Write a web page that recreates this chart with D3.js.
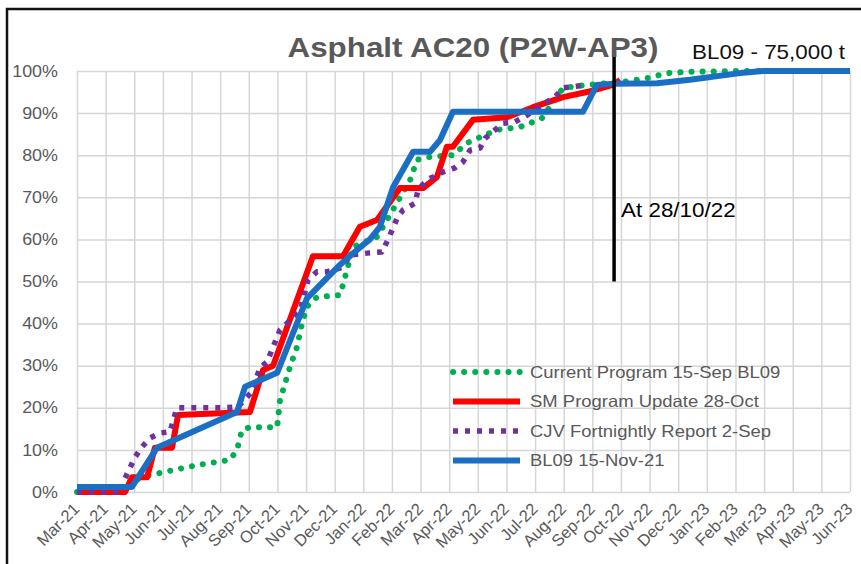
<!DOCTYPE html>
<meta charset="utf-8">
<title>Asphalt AC20 (P2W-AP3)</title>
<style>
  body { margin: 0; background: #fff; }
  svg text { font-family: "Liberation Sans", Arial, sans-serif; }
</style>
<svg id="chart"></svg>
<script src="https://cdn.jsdelivr.net/npm/d3@7"></script>
<script>
  // month labels on the category axis
  var months = ["Mar-21","Apr-21","May-21","Jun-21","Jul-21","Aug-21","Sep-21","Oct-21","Nov-21","Dec-21",
    "Jan-22","Feb-22","Mar-22","Apr-22","May-22","Jun-22","Jul-22","Aug-22","Sep-22","Oct-22","Nov-22","Dec-22",
    "Jan-23","Feb-23","Mar-23","Apr-23","May-23","Jun-23"];
  var yTicks = [0, 10, 20, 30, 40, 50, 60, 70, 80, 90, 100];

  // series: [month position (0 = Mar-21), cumulative %]
  var currentProgram = [[0,0],[1.68,0],[2.2,3.5],[2.55,4],[3.35,5.2],[4.3,6.5],[5.34,7.6],[5.59,10],[5.76,14.7],
    [6.04,15.4],[6.99,15.4],[7.09,21.8],[7.44,29.7],[7.68,34.4],[7.86,40],[8.03,44],[8.38,46.3],[9.19,46.8],
    [9.43,52.7],[9.64,58.2],[10.48,60.6],[10.69,63],[11.63,74],[11.88,78.9],[12.33,79.6],[13.13,80],[13.62,82.9],
    [14.08,84.3],[14.67,86],[15.47,86.7],[15.82,87.6],[16.24,88.8],[16.98,96],[17.81,96.7],[18.97,97.3],
    [19.91,98.3],[20.61,99.5],[21.41,99.8],[23.05,100],[27,100]];
  var smUpdate = [[0,0],[1.68,0],[1.92,3.5],[2.45,3.5],[2.72,10.5],[3.32,10.5],[3.53,18.3],[6.04,19],[6.5,29],
    [6.85,30],[8.24,56],[9.29,56],[9.88,63],[10.48,64.6],[11.28,72.2],[12.09,72.2],[12.57,74.8],[12.92,82],
    [13.13,82],[13.83,88.4],[15.02,89],[15.93,91.4],[16.98,93.8],[17.81,95],[18.72,96.7],[18.97,97.9]];
  var cjvReport = [[0,0],[1.6,0],[1.68,3.3],[1.85,5.7],[2.03,8.3],[2.27,10.7],[2.55,12.8],[2.9,14],[3.25,14.3],
    [3.49,20],[5.1,20],[5.62,20.2],[6.11,23.8],[6.39,29.5],[6.64,30.9],[7.09,38.5],[7.79,43],[8.07,50.4],
    [8.38,52.3],[8.73,52.3],[9.29,53.4],[9.54,56.3],[10.23,56.8],[10.65,57],[10.86,59.9],[11.18,65],[11.39,67],
    [11.81,68.6],[11.91,71.7],[12.22,74.1],[12.78,76],[13.2,77],[13.48,78.4],[13.73,81.2],[14.08,81.7],
    [14.25,84],[14.6,86],[14.88,87.6],[15.3,87.9],[15.72,89.5],[16.35,92.4],[16.7,93.8],[16.98,96],[17.6,96.5]];
  var bl09 = [[0,1.2],[1.92,1.2],[2.79,10.5],[5.59,19],[5.87,25],[6.99,28.3],[8.03,46],[9.19,54],[9.78,57.5],
    [10.23,60],[10.58,63],[11.04,72.4],[11.74,80.8],[12.33,80.8],[12.68,83.6],[13.13,90.3],[17.67,90.3],
    [18.16,96.7],[18.76,97],[20.26,97.1],[21.41,97.9],[23.16,99.5],[23.96,100],[27,100]];

  var seriesNames = ["Current Program 15-Sep BL09", "SM Program Update 28-Oct", "CJV Fortnightly Report 2-Sep", "BL09 15-Nov-21"];
  var markerPos = 18.76;   // "At 28/10/22" line
  var markerRange = [50, 104.5];

  var width = 861, height = 564;
  var sx = 1.12; // the source picture is a bit stretched sideways

  var svg = d3.select("#chart").attr("width", width).attr("height", height);

  var x = d3.scaleLinear().domain([0, months.length - 1]).range([77, 850]);
  var y = d3.scaleLinear().domain([0, 100]).range([492, 71]);

  // frame
  svg.append("rect")
    .attr("x", 7).attr("y", 9).attr("width", 900).attr("height", 600)
    .attr("fill", "none").attr("stroke", "#111").attr("stroke-width", 2.5);

  // y axis + horizontal grid
  var yAxis = svg.append("g")
    .attr("transform", "translate(" + x(0) + ",0)")
    .call(d3.axisLeft(y).tickValues(yTicks).tickFormat(function(d) {return d + "%";})
      .tickSize(-(x.range()[1] - x.range()[0])).tickPadding(17));
  yAxis.select(".domain").remove();
  yAxis.selectAll("line").attr("stroke", "#d6d6d6").attr("stroke-width", 1.5);
  yAxis.selectAll("text")
    .attr("fill", "#595959").style("font-size", "16px")
    .attr("transform", "scale(" + sx + ",1)");

  // x axis + vertical grid
  var xAxis = svg.append("g")
    .attr("transform", "translate(0," + y(0) + ")")
    .call(d3.axisBottom(x).tickValues(d3.range(months.length)).tickFormat(function(i) {return months[i];})
      .tickSize(-(y(0) - y(100))));
  xAxis.select(".domain").remove();
  xAxis.selectAll("line").attr("stroke", "#d6d6d6").attr("stroke-width", 1.5);
  xAxis.selectAll("text")
    .attr("fill", "#595959").style("font-size", "16.5px")
    .attr("text-anchor", "end")
    .attr("x", 0).attr("y", 0).attr("dy", "0.35em")
    .attr("transform", "translate(-1,14) rotate(-45)");

  // lines
  var line = d3.line().x(function(d) {return x(d[0]);}).y(function(d) {return y(d[1]);});

  var styles = [
    {data: currentProgram, color: "#00b050", width: 6, dash: "0.1 11", cap: "round"},
    {data: smUpdate, color: "#ff0000", width: 6, dash: null, cap: "butt"},
    {data: cjvReport, color: "#7030a0", width: 5.5, dash: "5 7", cap: "butt"},
    {data: bl09, color: "#1a6fc4", width: 6, dash: null, cap: "butt"}
  ];

  svg.selectAll("path.series")
    .data(styles)
    .enter().append("path")
    .attr("class", "series")
    .attr("d", function(d) {return line(d.data);})
    .attr("fill", "none")
    .attr("stroke", function(d) {return d.color;})
    .attr("stroke-width", function(d) {return d.width;})
    .attr("stroke-dasharray", function(d) {return d.dash;})
    .attr("stroke-linecap", function(d) {return d.cap;})
    .attr("stroke-linejoin", "round");

  // marker line
  svg.append("line")
    .attr("x1", x(markerPos)).attr("x2", x(markerPos))
    .attr("y1", y(markerRange[1])).attr("y2", y(markerRange[0]))
    .attr("stroke", "#000").attr("stroke-width", 3.5);
  svg.append("text")
    .attr("transform", "translate(" + (x(markerPos) + 7) + "," + (y(markerRange[0]) - 65) + ") scale(" + sx + ",1)")
    .attr("fill", "#000").style("font-size", "20px")
    .text("At 28/10/22");

  // titles
  svg.append("text")
    .attr("transform", "translate(473,57) scale(" + sx + ",1)")
    .attr("text-anchor", "middle")
    .attr("fill", "#595959").style("font-size", "28px").style("font-weight", "bold")
    .text("Asphalt AC20 (P2W-AP3)");
  svg.append("text")
    .attr("transform", "translate(692,59) scale(" + sx + ",1)")
    .attr("fill", "#111").style("font-size", "20px")
    .text("BL09 - 75,000 t");

  // legend
  var legend = svg.selectAll("g.legend")
    .data(styles)
    .enter().append("g")
    .attr("class", "legend")
    .attr("transform", function(d, i) {return "translate(450," + (372 + i * 29.5) + ")";});
  legend.append("line")
    .attr("x1", 3).attr("x2", 70).attr("y1", 0).attr("y2", 0)
    .attr("stroke", function(d) {return d.color;})
    .attr("stroke-width", function(d) {return d.width;})
    .attr("stroke-dasharray", function(d) {return d.dash;})
    .attr("stroke-linecap", function(d) {return d.cap;});
  legend.append("text")
    .attr("transform", "translate(80,0) scale(" + sx + ",1)")
    .attr("dy", "0.35em")
    .attr("fill", "#595959").style("font-size", "16.5px")
    .text(function(d, i) {return seriesNames[i];});
</script>
